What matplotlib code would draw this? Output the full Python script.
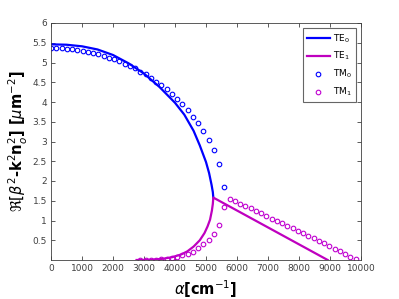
import matplotlib
matplotlib.use("Agg")
import matplotlib.pyplot as plt
import numpy as np

# TE0 (solid blue)
te0_x = [0, 500, 1000, 1500, 2000, 2500, 3000, 3500, 4000, 4300, 4600, 4800, 5000, 5100, 5180, 5220, 5236]
te0_y = [5.46, 5.45, 5.41, 5.33, 5.19, 4.98, 4.72, 4.38, 3.98, 3.68, 3.27, 2.90, 2.48, 2.20, 1.90, 1.72, 1.58]

# TE1 (solid magenta): lower branch then straight branch
te1_x = [2760, 3200, 3600, 3900, 4200, 4400, 4600, 4800, 4950, 5050, 5130, 5190, 5220, 5236, 8925]
te1_y = [0.0, 0.005, 0.03, 0.07, 0.14, 0.22, 0.34, 0.50, 0.68, 0.85, 1.02, 1.25, 1.42, 1.58, 0.0]

# alpha sampling grid of circle markers
alpha_grid = [0, 169.5, 339, 508.5, 678, 847.5, 1017, 1186.4, 1355.9, 1525.4, 1694.9, 1864.4,
              2033.9, 2203.4, 2372.9, 2542.4, 2711.9, 2881.4, 3050.8, 3220.3, 3389.8, 3559.3,
              3728.8, 3898.3, 4067.8, 4237.3, 4406.8, 4576.3, 4745.8, 4915.3, 5084.7, 5254.2,
              5423.7, 5593.2, 5762.7, 5932.2, 6101.7, 6271.2, 6440.7, 6610.2, 6779.7, 6949.2,
              7118.6, 7288.1, 7457.6, 7627.1, 7796.6, 7966.1, 8135.6, 8305.1, 8474.6, 8644.1,
              8813.6, 8983.1, 9152.5, 9322.0, 9491.5, 9661.0, 9830.5]

# TM0 (blue circles) for first 34 grid points
tm0_y = [5.37, 5.37, 5.36, 5.35, 5.34, 5.32, 5.30, 5.27, 5.24, 5.21, 5.17, 5.12, 5.08, 5.03,
         4.97, 4.91, 4.85, 4.77, 4.70, 4.62, 4.51, 4.42, 4.32, 4.19, 4.08, 3.94, 3.79, 3.63,
         3.46, 3.26, 3.04, 2.78, 2.44, 1.86]

# TM1 (magenta circles) from grid index 17 to 58
tm1_y = [0.0, 0.0, 0.0, 0.01, 0.02, 0.03, 0.05, 0.08, 0.12, 0.16, 0.21, 0.30, 0.40, 0.51,
         0.66, 0.89, 1.35,
         1.54, 1.49, 1.43, 1.37, 1.32, 1.25, 1.18, 1.11, 1.05, 0.99, 0.94, 0.87, 0.81, 0.74,
         0.68, 0.62, 0.55, 0.49, 0.42, 0.35, 0.29, 0.22, 0.15, 0.08, 0.02]

x_ticks = [0, 1000, 2000, 3000, 4000, 5000, 6000, 7000, 8000, 9000, 10000]
y_ticks = [0.5, 1, 1.5, 2, 2.5, 3, 3.5, 4, 4.5, 5, 5.5, 6]

blue = "#0000FF"
mag = "#BF00BF"
mag_c = "#C000D0"
gray = "#404040"

fig = plt.figure(figsize=(3.99, 2.99), dpi=100)
ax = fig.add_axes([51/399, 1-260/299, 310/399, 237/299])

ax.plot(te0_x, te0_y, color=blue, lw=1.6, label=r"TE$_0$")
ax.plot(te1_x, te1_y, color=mag, lw=1.6, label=r"TE$_1$")
n0 = len(tm0_y)
ax.plot(alpha_grid[:n0], tm0_y, ls="none", marker="o", ms=3.3, mfc="none",
        mec=blue, mew=0.8, label=r"TM$_0$")
ax.plot(alpha_grid[17:17+len(tm1_y)], tm1_y, ls="none", marker="o", ms=3.3, mfc="none",
        mec=mag_c, mew=0.8, label=r"TM$_1$")

ax.set_xlim(0, 10000)
ax.set_ylim(0, 6)
ax.set_xticks(x_ticks)
ax.set_yticks(y_ticks)
ax.set_yticklabels([("%g" % v) for v in y_ticks])
ax.tick_params(direction="in", top=True, right=True, length=3, width=0.6,
               labelsize=6.5, colors=gray, pad=3)
for s in ax.spines.values():
    s.set_color(gray)
    s.set_linewidth(0.6)

ax.set_xlabel(r"$\alpha$[cm$^{-1}$]", fontsize=10.5, fontweight="bold", labelpad=4)
ax.set_ylabel(r"$\Re[\beta^2$-k$^2$n$_o^2$] [$\mu$m$^{-2}$]", fontsize=10.5,
              fontweight="bold", labelpad=2)

leg = ax.legend(loc="upper right", fontsize=6.5, frameon=True, fancybox=False,
                edgecolor=gray, handlelength=2.6, borderaxespad=0.6, labelspacing=0.6,
                handletextpad=0.3)
leg.get_frame().set_linewidth(0.8)

fig.savefig("out.png", dpi=100)
